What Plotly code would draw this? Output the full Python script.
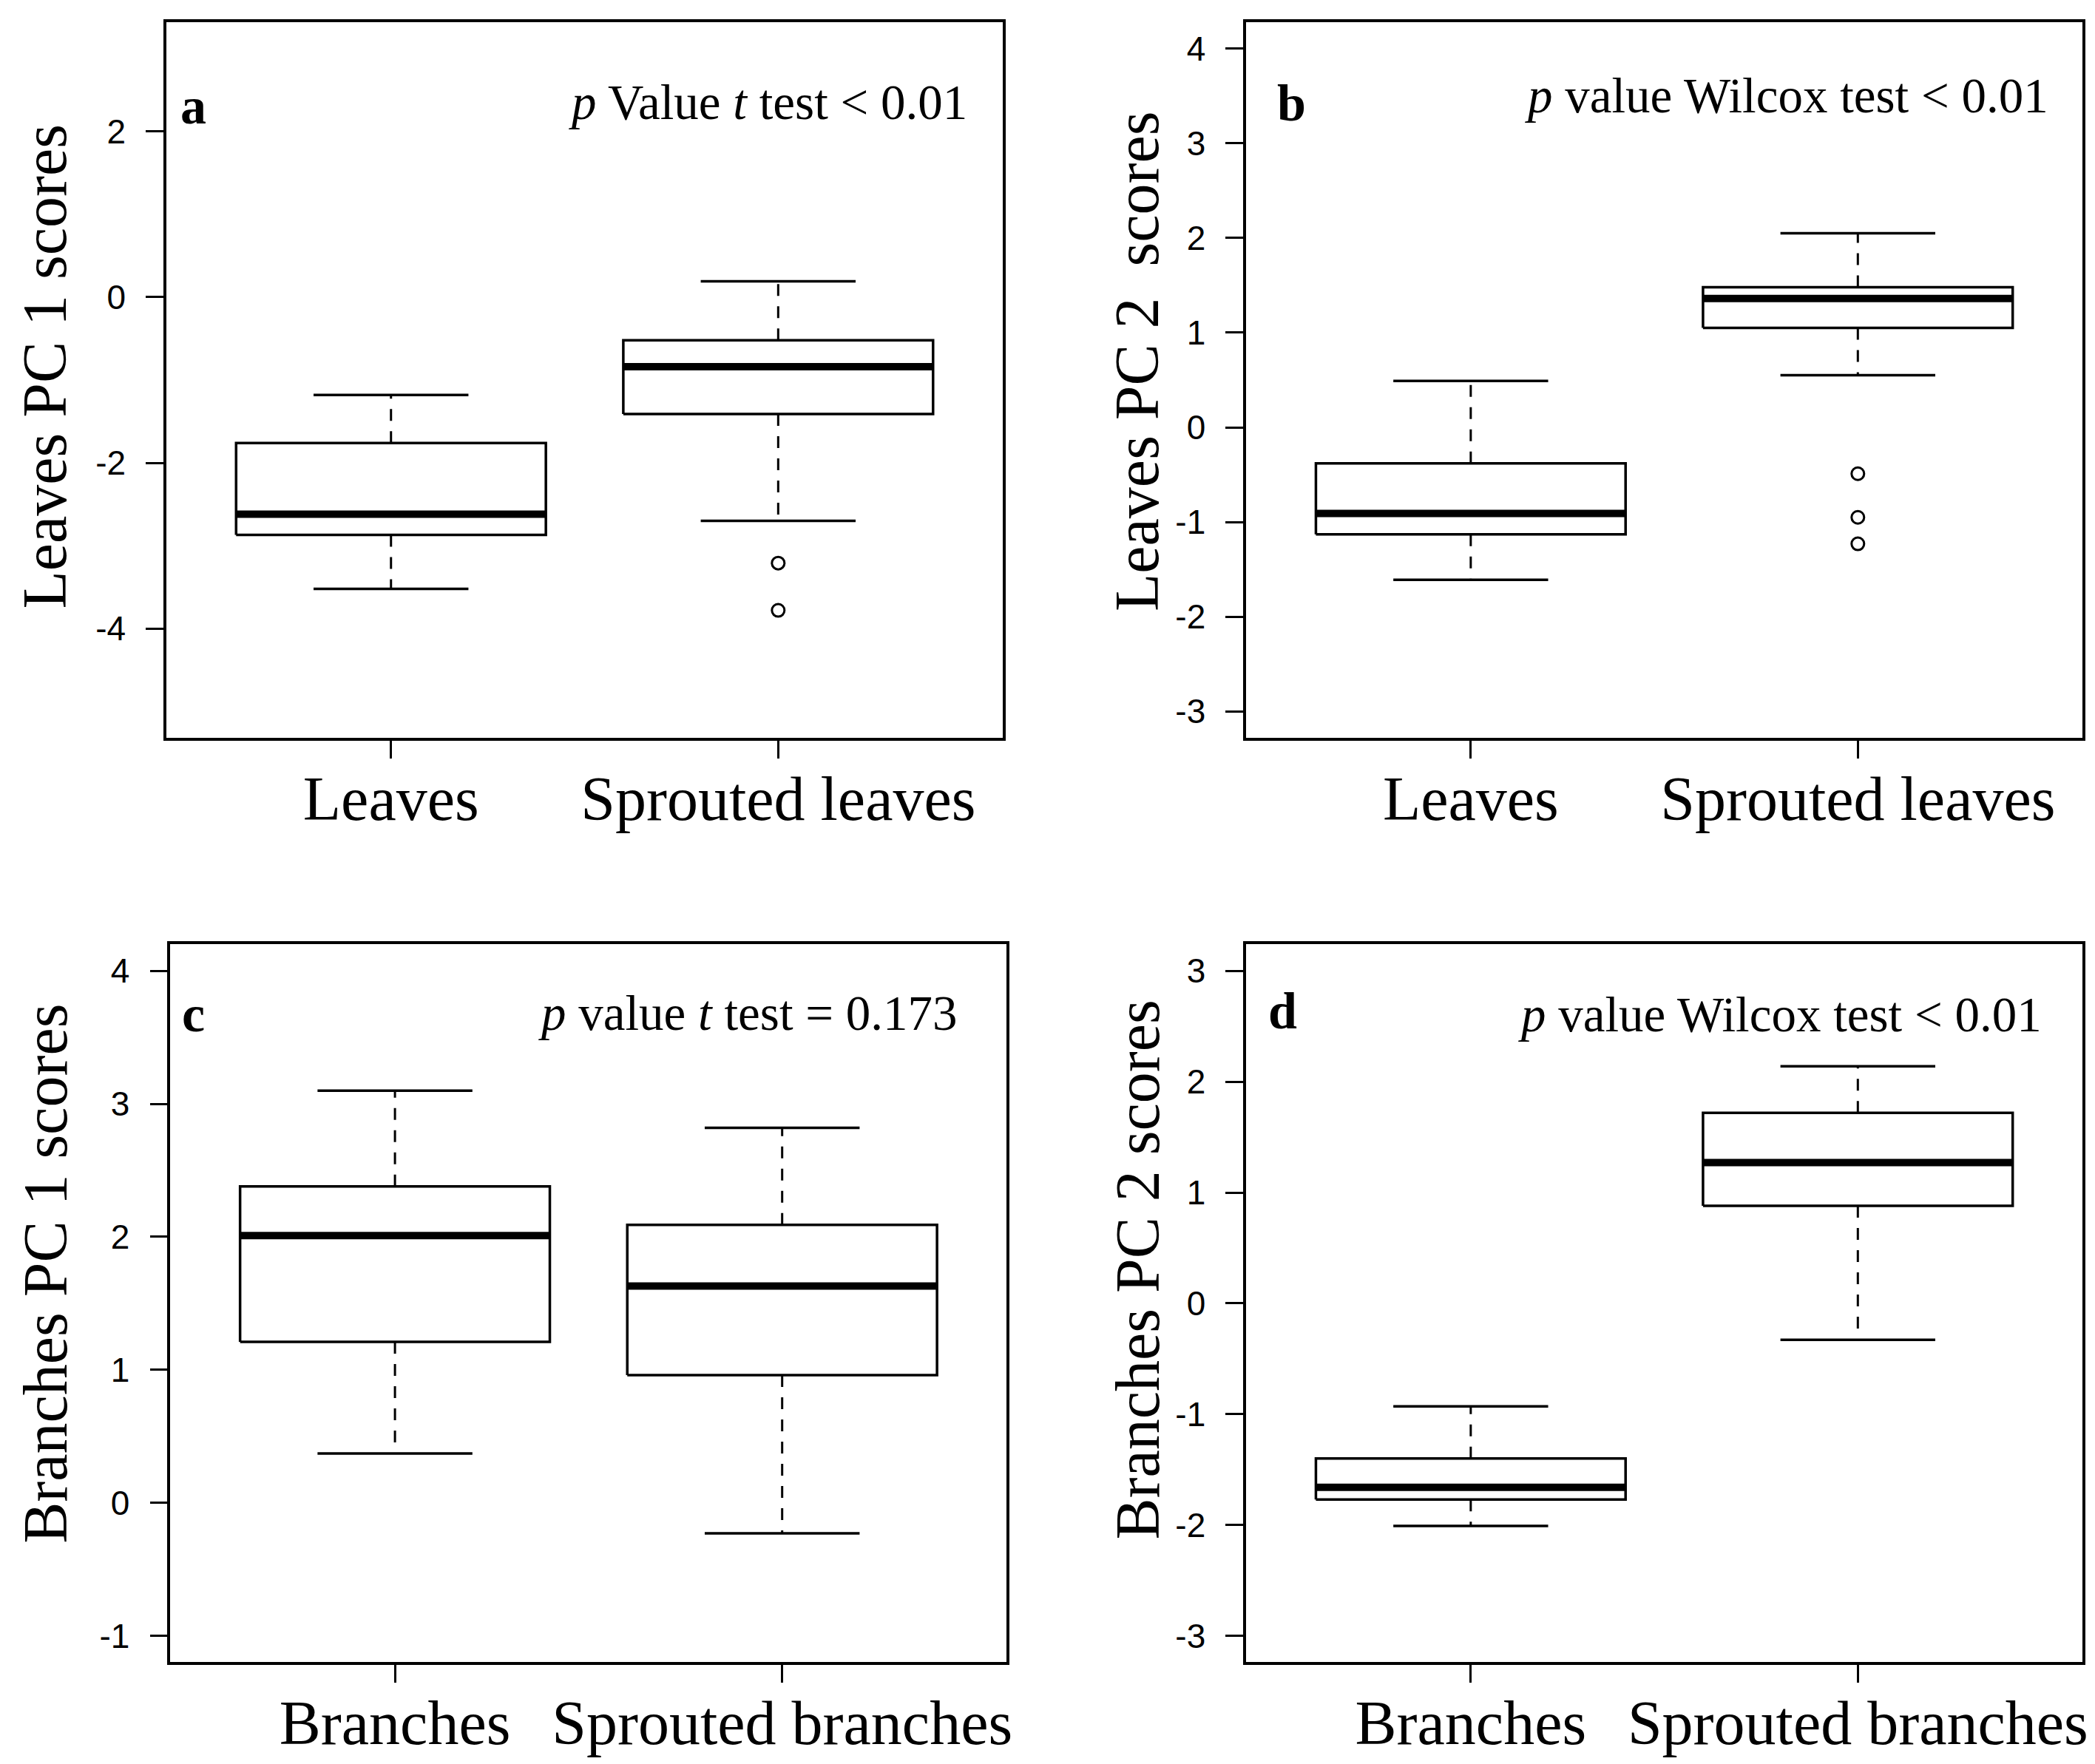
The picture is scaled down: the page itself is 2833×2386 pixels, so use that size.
import plotly.graph_objects as go
from plotly.subplots import make_subplots

# ---- data ----
leaf_groups = ["Leaves", "Sprouted leaves"]
branch_groups = ["Branches", "Sprouted branches"]

# a: leaves PC1
a_lower = [-3.52, -2.70]
a_q1 = [-2.87, -1.41]
a_median = [-2.62, -0.84]
a_q3 = [-1.76, -0.52]
a_upper = [-1.18, 0.19]
a_outliers = [[], [-3.21, -3.78]]

# b: leaves PC2
b_lower = [-1.61, 0.55]
b_q1 = [-1.13, 1.05]
b_median = [-0.91, 1.36]
b_q3 = [-0.38, 1.48]
b_upper = [0.49, 2.05]
b_outliers = [[], [-0.49, -0.95, -1.23]]

# c: branches PC1
c_lower = [0.37, -0.23]
c_q1 = [1.21, 0.96]
c_median = [2.01, 1.63]
c_q3 = [2.38, 2.09]
c_upper = [3.10, 2.82]
c_outliers = [[], []]

# d: branches PC2
d_lower = [-2.01, -0.33]
d_q1 = [-1.77, 0.88]
d_median = [-1.66, 1.27]
d_q3 = [-1.40, 1.72]
d_upper = [-0.93, 2.14]
d_outliers = [[], []]

a_ticks = [-4, -2, 0, 2]
b_ticks = [-3, -2, -1, 0, 1, 2, 3, 4]
c_ticks = [-1, 0, 1, 2, 3, 4]
d_ticks = [-3, -2, -1, 0, 1, 2, 3]

SERIF = "Liberation Serif, Times New Roman, serif"
SANS = "Liberation Sans, Arial, sans-serif"
LW = 3.5

fig = make_subplots(rows=2, cols=2)


def draw_boxes(row, col, lower, q1, med, q3, upper, outliers):
    for i in range(len(med)):
        c = i + 1
        # whiskers (dashed)
        for y0, y1 in [(q3[i], upper[i]), (q1[i], lower[i])]:
            fig.add_trace(go.Scatter(x=[c, c], y=[y0, y1], mode="lines",
                                     line=dict(color="black", width=3, dash="16px,14px")),
                          row=row, col=col)
        # staples
        for yv in [upper[i], lower[i]]:
            fig.add_trace(go.Scatter(x=[c - 0.2, c + 0.2], y=[yv, yv], mode="lines",
                                     line=dict(color="black", width=LW)),
                          row=row, col=col)
        # box
        fig.add_trace(go.Scatter(x=[c - 0.4, c + 0.4, c + 0.4, c - 0.4, c - 0.4],
                                 y=[q1[i], q1[i], q3[i], q3[i], q1[i]], mode="lines",
                                 line=dict(color="black", width=LW)),
                      row=row, col=col)
        # median
        fig.add_trace(go.Scatter(x=[c - 0.4, c + 0.4], y=[med[i], med[i]], mode="lines",
                                 line=dict(color="black", width=10)),
                      row=row, col=col)
        if outliers[i]:
            fig.add_trace(go.Scatter(x=[c] * len(outliers[i]), y=outliers[i], mode="markers",
                                     marker=dict(symbol="circle-open", size=17, color="black",
                                                 line=dict(width=3))),
                          row=row, col=col)


draw_boxes(1, 1, a_lower, a_q1, a_median, a_q3, a_upper, a_outliers)
draw_boxes(1, 2, b_lower, b_q1, b_median, b_q3, b_upper, b_outliers)
draw_boxes(2, 1, c_lower, c_q1, c_median, c_q3, c_upper, c_outliers)
draw_boxes(2, 2, d_lower, d_q1, d_median, d_q3, d_upper, d_outliers)

axis_common = dict(showline=True, mirror=True, linewidth=LW, linecolor="black",
                   ticks="outside", ticklen=24, tickwidth=3, tickcolor="black",
                   showgrid=False, zeroline=False)

panels = [
    # (xaxis, yaxis, xdomain, ydomain, yrange, yticks, groups)
    ("xaxis", "yaxis", [0.0768, 0.4770], [0.5850, 0.9909], [-5.32, 3.32], a_ticks, leaf_groups),
    ("xaxis2", "yaxis2", [0.5935, 0.9936], [0.5850, 0.9909], [-3.28, 4.28], b_ticks, leaf_groups),
    ("xaxis3", "yaxis3", [0.0787, 0.4789], [0.0610, 0.4680], [-1.2, 4.2], c_ticks, branch_groups),
    ("xaxis4", "yaxis4", [0.5935, 0.9936], [0.0610, 0.4680], [-3.24, 3.24], d_ticks, branch_groups),
]
for xa, ya, xd, yd, yr, yt, groups in panels:
    fig.update_layout({
        xa: dict(axis_common, domain=xd, range=[0.42, 2.58], tickvals=[1, 2], ticktext=groups,
                 tickfont=dict(family=SERIF, size=84, color="black"), ticklabelstandoff=-18),
        ya: dict(axis_common, domain=yd, range=yr, tickvals=yt, ticktext=[str(v) for v in yt],
                 tickfont=dict(family=SANS, size=46, color="black"), ticklabelstandoff=18),
    })

y_titles = ["Leaves PC 1 scores", "Leaves PC 2\u00a0 scores",
            "Branches PC 1 scores", "Branches PC 2 scores"]
y_title_pos = [(-0.145, 0.519), (-0.13, 0.526), (-0.15, 0.541), (-0.13, 0.547)]
letters = ["a", "b", "c", "d"]
letter_pos = [(0.015, 0.882), (0.035, 0.887), (0.012, 0.903), (0.025, 0.907)]
p_texts = ["<i>p</i> Value <i>t</i> test &lt; 0.01",
           "<i>p</i> value Wilcox test &lt; 0.01",
           "<i>p</i> value <i>t</i> test = 0.173",
           "<i>p</i> value Wilcox test &lt; 0.01"]
p_pos = [(0.959, 0.888), (0.961, 0.897), (0.943, 0.905), (0.953, 0.903)]
axis_ids = ["", "2", "3", "4"]

for k, ax in enumerate(axis_ids):
    fig.add_annotation(text=y_titles[k], xref=f"x{ax} domain", yref=f"y{ax} domain",
                       x=y_title_pos[k][0], y=y_title_pos[k][1], textangle=-90,
                       xanchor="center", yanchor="middle", showarrow=False,
                       font=dict(family=SERIF, size=84, color="black"))
    fig.add_annotation(text=f"<b>{letters[k]}</b>", xref=f"x{ax} domain", yref=f"y{ax} domain",
                       x=letter_pos[k][0], y=letter_pos[k][1], xanchor="left", yanchor="middle",
                       showarrow=False, font=dict(family=SERIF, size=70, color="black"))
    fig.add_annotation(text=p_texts[k], xref=f"x{ax} domain", yref=f"y{ax} domain",
                       x=p_pos[k][0], y=p_pos[k][1], xanchor="right", yanchor="middle",
                       showarrow=False, font=dict(family=SERIF, size=67, color="black"))

fig.update_layout(width=2833, height=2386, showlegend=False,
                  margin=dict(l=0, r=0, t=0, b=0),
                  paper_bgcolor="white", plot_bgcolor="white")

fig.write_html("out.html")
